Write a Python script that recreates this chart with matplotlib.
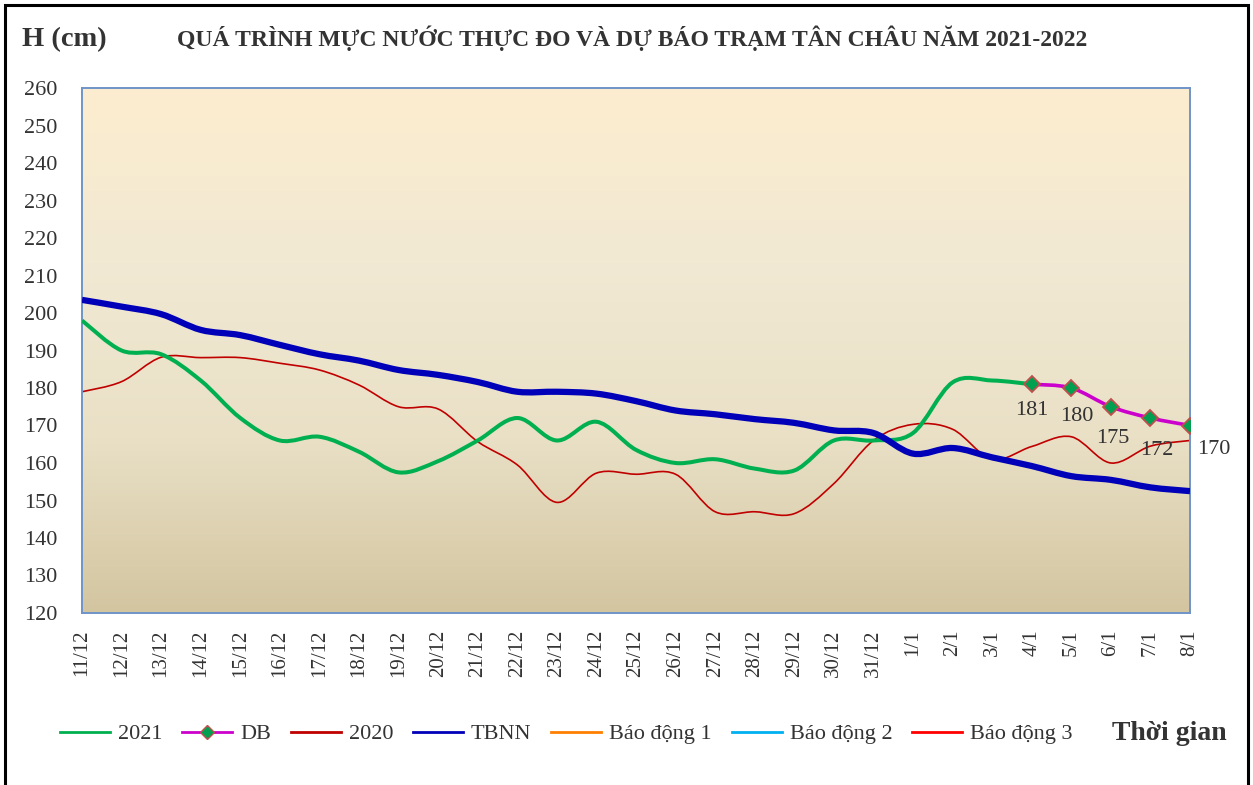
import numpy as np
import matplotlib
matplotlib.use("Agg")
import matplotlib.pyplot as plt
from matplotlib.path import Path
from matplotlib.patches import PathPatch, Rectangle
from matplotlib.lines import Line2D

plt.rcParams['font.family'] = ['Liberation Serif', 'DejaVu Serif']

dates = ['11/12', '12/12', '13/12', '14/12', '15/12', '16/12', '17/12', '18/12',
         '19/12', '20/12', '21/12', '22/12', '23/12', '24/12', '25/12', '26/12',
         '27/12', '28/12', '29/12', '30/12', '31/12', '1/1', '2/1', '3/1', '4/1',
         '5/1', '6/1', '7/1', '8/1']

# measured 2021-2022 (up to 4/1)
h2021 = [198, 190, 189, 182, 172, 166, 167, 163, 157.5, 160.5, 166, 172, 166,
         171, 163.5, 160, 161, 158.5, 158, 166, 166, 168, 181.5, 182, 181]
# forecast 4/1 - 8/1
db = [181, 180, 175, 172, 170]
h2020 = [179, 181.7, 188.2, 188.1, 188.1, 186.6, 184.8, 180.8, 175, 174.4, 165.7,
         159.5, 149.5, 157.3, 157, 157, 147, 147, 146.5, 154.5, 166, 170.3, 169,
         161, 164.4, 167, 160, 164.5, 166]
tbnn = [203.5, 201.7, 199.7, 195.5, 194.1, 191.5, 189, 187.3, 184.8, 183.5, 181.6,
        179, 179, 178.5, 176.5, 174, 173, 171.7, 170.7, 168.7, 168, 162.5, 164,
        161.5, 159.2, 156.5, 155.5, 153.5, 152.5]
# alarm levels (outside the visible range)
bd1, bd2, bd3 = 350, 400, 450


def smooth_path(x, y):
    # Excel-like smoothed line as cubic Bezier segments
    pts = np.column_stack([x, y]).astype(float)
    n = len(pts)
    verts = [pts[0]]
    codes = [Path.MOVETO]
    for i in range(n - 1):
        p0 = pts[i - 1] if i > 0 else pts[i]
        p1, p2 = pts[i], pts[i + 1]
        p3 = pts[i + 2] if i + 2 < n else pts[i + 1]
        verts += [p1 + (p2 - p0) / 6, p2 - (p3 - p1) / 6, p2]
        codes += [Path.CURVE4] * 3
    return Path(verts, codes)


fig = plt.figure(figsize=(12.53, 7.85), dpi=100)
ax = fig.add_axes([82 / 1253, 1 - 613 / 785, 1108 / 1253, 525 / 785])

# gradient background
grad = np.linspace(0, 1, 256).reshape(-1, 1)
cmap = matplotlib.colors.LinearSegmentedColormap.from_list(
    'bg', ['#FDEDCF', '#F1E9D3', '#E9E0C6', '#D3C5A0'])
ax.imshow(grad, aspect='auto', cmap=cmap, extent=[0, 1, 0, 1],
          transform=ax.transAxes, zorder=0)

n = len(dates)
x_all = np.arange(n)
c2021, cdb, c2020, ctbnn = '#00B050', '#CC00CC', '#C00000', '#0000B8'

ax.add_patch(PathPatch(smooth_path(x_all, h2020), fill=False, edgecolor=c2020,
                       lw=1.2, zorder=2))
ax.add_patch(PathPatch(smooth_path(x_all[:len(h2021)], h2021), fill=False,
                       edgecolor=c2021, lw=2.9, zorder=3))
ax.add_patch(PathPatch(smooth_path(x_all, tbnn), fill=False, edgecolor=ctbnn,
                       lw=4.5, zorder=4))
x_db = x_all[len(h2021) - 1:]
ax.add_patch(PathPatch(smooth_path(x_db, db), fill=False, edgecolor=cdb,
                       lw=2.6, zorder=5))
ax.plot(x_db, db, ls='none', marker='D', ms=8, mfc='#00A050', mec='#C0504D',
        mew=1.3, zorder=6)
label_offsets = [(0, -36), (6, -38), (2, -41), (6, -42), (24, -34)]
for (xv, yv), off in zip(zip(x_db, db), label_offsets):
    ax.annotate(f'{yv:g}', (xv, yv), textcoords='offset pixels', xytext=off,
                ha='center', va='bottom', fontsize=16, color='#333333', zorder=7,
                annotation_clip=False)

for v, c in [(bd1, '#FF7F00'), (bd2, '#00B0F0'), (bd3, '#FF0000')]:
    ax.plot(x_all, [v] * n, color=c, lw=1.5)

ax.set_xlim(0, n - 1)
ax.set_ylim(120, 260)
ax.set_yticks(range(120, 261, 10))
ax.set_xticks(x_all)
ax.set_xticklabels(dates, rotation=90, fontsize=15, color='#333333')
ax.tick_params(axis='y', length=0, pad=18, labelsize=16, labelcolor='#333333')
ax.tick_params(axis='x', length=0, pad=12)
for s in ax.spines.values():
    s.set_color('#6F94C8')
    s.set_linewidth(1.4)

fig.text(22 / 1253, 1 - 40 / 785, 'H (cm)', fontsize=20.5, fontweight='bold',
         color='#333333', va='center', ha='left')
fig.text(632 / 1253, 1 - 38 / 785,
         'QUÁ TRÌNH MỰC NƯỚC THỰC ĐO VÀ DỰ BÁO TRẠM TÂN CHÂU NĂM 2021-2022',
         fontsize=17, fontweight='bold', color='#333333', ha='center', va='center')

handles = [
    Line2D([], [], color=c2021, lw=2),
    Line2D([], [], color=cdb, lw=2, marker='D', ms=7, mfc='#00A050', mec='#C0504D'),
    Line2D([], [], color=c2020, lw=2),
    Line2D([], [], color=ctbnn, lw=2),
    Line2D([], [], color='#FF7F00', lw=2),
    Line2D([], [], color='#00B0F0', lw=2),
    Line2D([], [], color='#FF0000', lw=2),
]
labels = ['2021', 'DB', '2020', 'TBNN', 'Báo động 1', 'Báo động 2', 'Báo động 3']
fig.legend(handles, labels, loc='center left', bbox_to_anchor=(60 / 1253, 1 - 734 / 785),
           ncol=7, frameon=False, fontsize=16, handlelength=2.25, handletextpad=0.35,
           columnspacing=0.9, borderpad=0, borderaxespad=0, labelcolor='#333333')
fig.text(1112 / 1253, 1 - 734 / 785, 'Thời gian', fontsize=20, fontweight='bold',
         color='#333333', ha='left', va='center')

fig.add_artist(Rectangle((5 / 1253, -0.01), 1243 / 1253, 1.01 - 5 / 785,
                         transform=fig.transFigure, fill=False, edgecolor='black',
                         lw=2.2))

fig.savefig('out.png', dpi=100)
